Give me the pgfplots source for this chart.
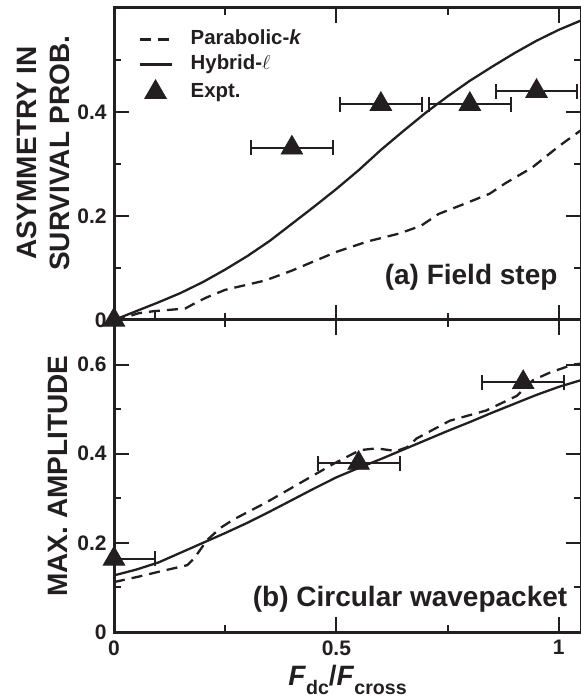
\documentclass[border=0pt]{standalone}
\usepackage{pgfplots}
\pgfplotsset{compat=1.18}
\usepackage{fontspec}
\setmainfont{Liberation Sans}

\definecolor{ink}{RGB}{35,31,32}

% Parabolic-k and hybrid-l model curves, and the measured points
\pgfplotstableread{
x      y
0      0
0.03   0.006
0.055  0.013
0.09   0.017
0.16   0.022
0.19   0.036
0.21   0.044
0.25   0.058
0.30   0.068
0.34   0.076
0.40   0.095
0.45   0.113
0.50   0.131
0.57   0.151
0.64   0.166
0.69   0.181
0.73   0.204
0.79   0.224
0.845  0.243
0.88   0.263
0.94   0.293
1.00   0.334
1.05   0.365
}\fieldpar
\pgfplotstableread{
x     y
0     0
0.05  0.017
0.10  0.034
0.15  0.052
0.20  0.073
0.25  0.097
0.30  0.123
0.35  0.152
0.40  0.185
0.45  0.218
0.50  0.252
0.55  0.288
0.60  0.327
0.65  0.363
0.70  0.398
0.75  0.430
0.80  0.460
0.85  0.487
0.90  0.513
0.95  0.537
1.00  0.558
1.05  0.576
}\fieldhyb
\pgfplotstableread{
x     y      ex
0     0      0.092
0.40  0.331  0.092
0.60  0.415  0.092
0.80  0.415  0.092
0.95  0.440  0.092
}\fieldexp
\pgfplotstableread{
x      y
0      0.112
0.05   0.123
0.10   0.135
0.165  0.150
0.18   0.165
0.21   0.207
0.24   0.234
0.268  0.252
0.343  0.291
0.418  0.334
0.493  0.377
0.553  0.408
0.59   0.412
0.635  0.406
0.66   0.415
0.68   0.434
0.755  0.474
0.837  0.497
0.906  0.530
0.942  0.565
0.98   0.582
1.032  0.600
1.05   0.602
}\circpar
\pgfplotstableread{
x     y
0     0.127
0.05  0.140
0.10  0.156
0.15  0.178
0.20  0.200
0.25  0.222
0.30  0.245
0.35  0.270
0.40  0.296
0.45  0.322
0.50  0.347
0.55  0.368
0.60  0.388
0.65  0.409
0.70  0.430
0.75  0.451
0.80  0.471
0.85  0.492
0.90  0.512
0.95  0.532
1.00  0.550
1.05  0.565
}\circhyb
\pgfplotstableread{
x     y      ex
0     0.164  0.092
0.55  0.379  0.092
0.92  0.560  0.092
}\circexp

\pgfplotsset{
  panel/.style={
    scale only axis, width=233.5pt, height=156pt,
    xmin=0, xmax=1.05,
    xtick={0,0.5,1}, minor xtick={0.25,0.75},
    tick align=inside,
    major tick length=7.5pt, minor tick length=3.5pt,
    tick style={ink, line width=1pt},
    axis line style={ink, line width=1.5pt},
    /pgf/number format/assume math mode=true,
    ticklabel style={font=\bfseries\fontsize{10.5}{12}\selectfont, inner sep=0pt, text=ink},
    yticklabel style={xshift=-3.5pt},
    xticklabel style={yshift=-4pt},
    label style={font=\bfseries\fontsize{14}{16.5}\selectfont, text=ink},
  },
  parab/.style={ink, line width=1.15pt, dash pattern=on 5.5pt off 3.5pt, no markers},
  hybrid/.style={ink, line width=1.15pt, no markers},
  expt/.style={ink, only marks, mark=triangle*, mark size=6.2pt,
    mark options={fill=ink, draw=ink, line width=0.4pt, solid},
    error bars/x dir=both, error bars/x explicit,
    error bars/error mark=|,
    error bars/error bar style={line width=1pt, ink},
    error bars/error mark options={mark size=3.75pt, line width=1pt, ink}},
}

\begin{document}
\begin{tikzpicture}
% (b) circular wavepacket
\begin{axis}[panel, at={(0,0)}, anchor=south west,
  ymin=0, ymax=0.7,
  ytick={0,0.2,0.4,0.6}, minor ytick={0.1,0.3,0.5},
  xlabel={\textit{F}\raisebox{-4.5pt}{\fontsize{9.8}{10}\selectfont dc}/\textit{F}\raisebox{-4.5pt}{\fontsize{9.8}{10}\selectfont cross}},
  xlabel style={at={(axis description cs:0.5,0)}, anchor=base, yshift=-26.5pt, inner sep=0pt},
  ylabel={MAX. AMPLITUDE},
  ylabel style={at={(axis description cs:-0.0985,0.5)}, anchor=south, inner sep=0pt},
]
\addplot[parab] table[x=x, y=y] {\circpar};
\addplot[hybrid] table[x=x, y=y] {\circhyb};
\addplot[expt] table[x=x, y=y, x error=ex] {\circexp};
\node[anchor=base east, inner sep=0pt, text=ink, font=\bfseries\fontsize{14}{16}\selectfont]
  at (axis cs:1.02,0.058) {(b) Circular wavepacket};
\end{axis}

% (a) field step
\begin{axis}[panel, at={(0,156pt)}, anchor=south west,
  ymin=0, ymax=0.6,
  ytick={0,0.2,0.4}, minor ytick={0.1,0.3,0.5},
  xticklabels={},
  ylabel={ASYMMETRY IN\\SURVIVAL PROB.},
  ylabel style={at={(axis description cs:-0.0942,0.535)}, anchor=south, inner sep=0pt, align=center},
  legend style={at={(axis description cs:0,1)}, anchor=north west,
    xshift=12pt, yshift=-10.5pt, draw=none, fill=none, inner sep=0pt,
    font=\bfseries\fontsize{10.2}{12}\selectfont, text=ink,
    nodes={inner sep=0pt, text height=7.5pt, text depth=2.5pt},
    column sep=9pt, row sep=2.5pt},
  legend cell align=left,
  legend image code/.code={\draw[#1] (0pt,0pt) -- (16pt,0pt);},
]
\addplot[parab] table[x=x, y=y] {\fieldpar};
\addlegendentry{Parabolic-\textit{k}}
\addplot[hybrid] table[x=x, y=y] {\fieldhyb};
\addlegendentry{Hybrid-$\ell$}
\addplot[expt, legend image code/.code={\fill[ink] (8pt,0pt) +(90:6.2pt) -- +(210:6.2pt) -- +(330:6.2pt) -- cycle;}]
  table[x=x, y=y, x error=ex] {\fieldexp};
\addlegendentry{Expt.}
\node[anchor=base east, inner sep=0pt, text=ink, font=\bfseries\fontsize{14}{16}\selectfont]
  at (axis cs:0.998,0.068) {(a) Field step};
\end{axis}

\pgfresetboundingbox
\path[use as bounding box] (-57pt,-34pt) rectangle (233.5pt,316pt);
\end{tikzpicture}
\end{document}
